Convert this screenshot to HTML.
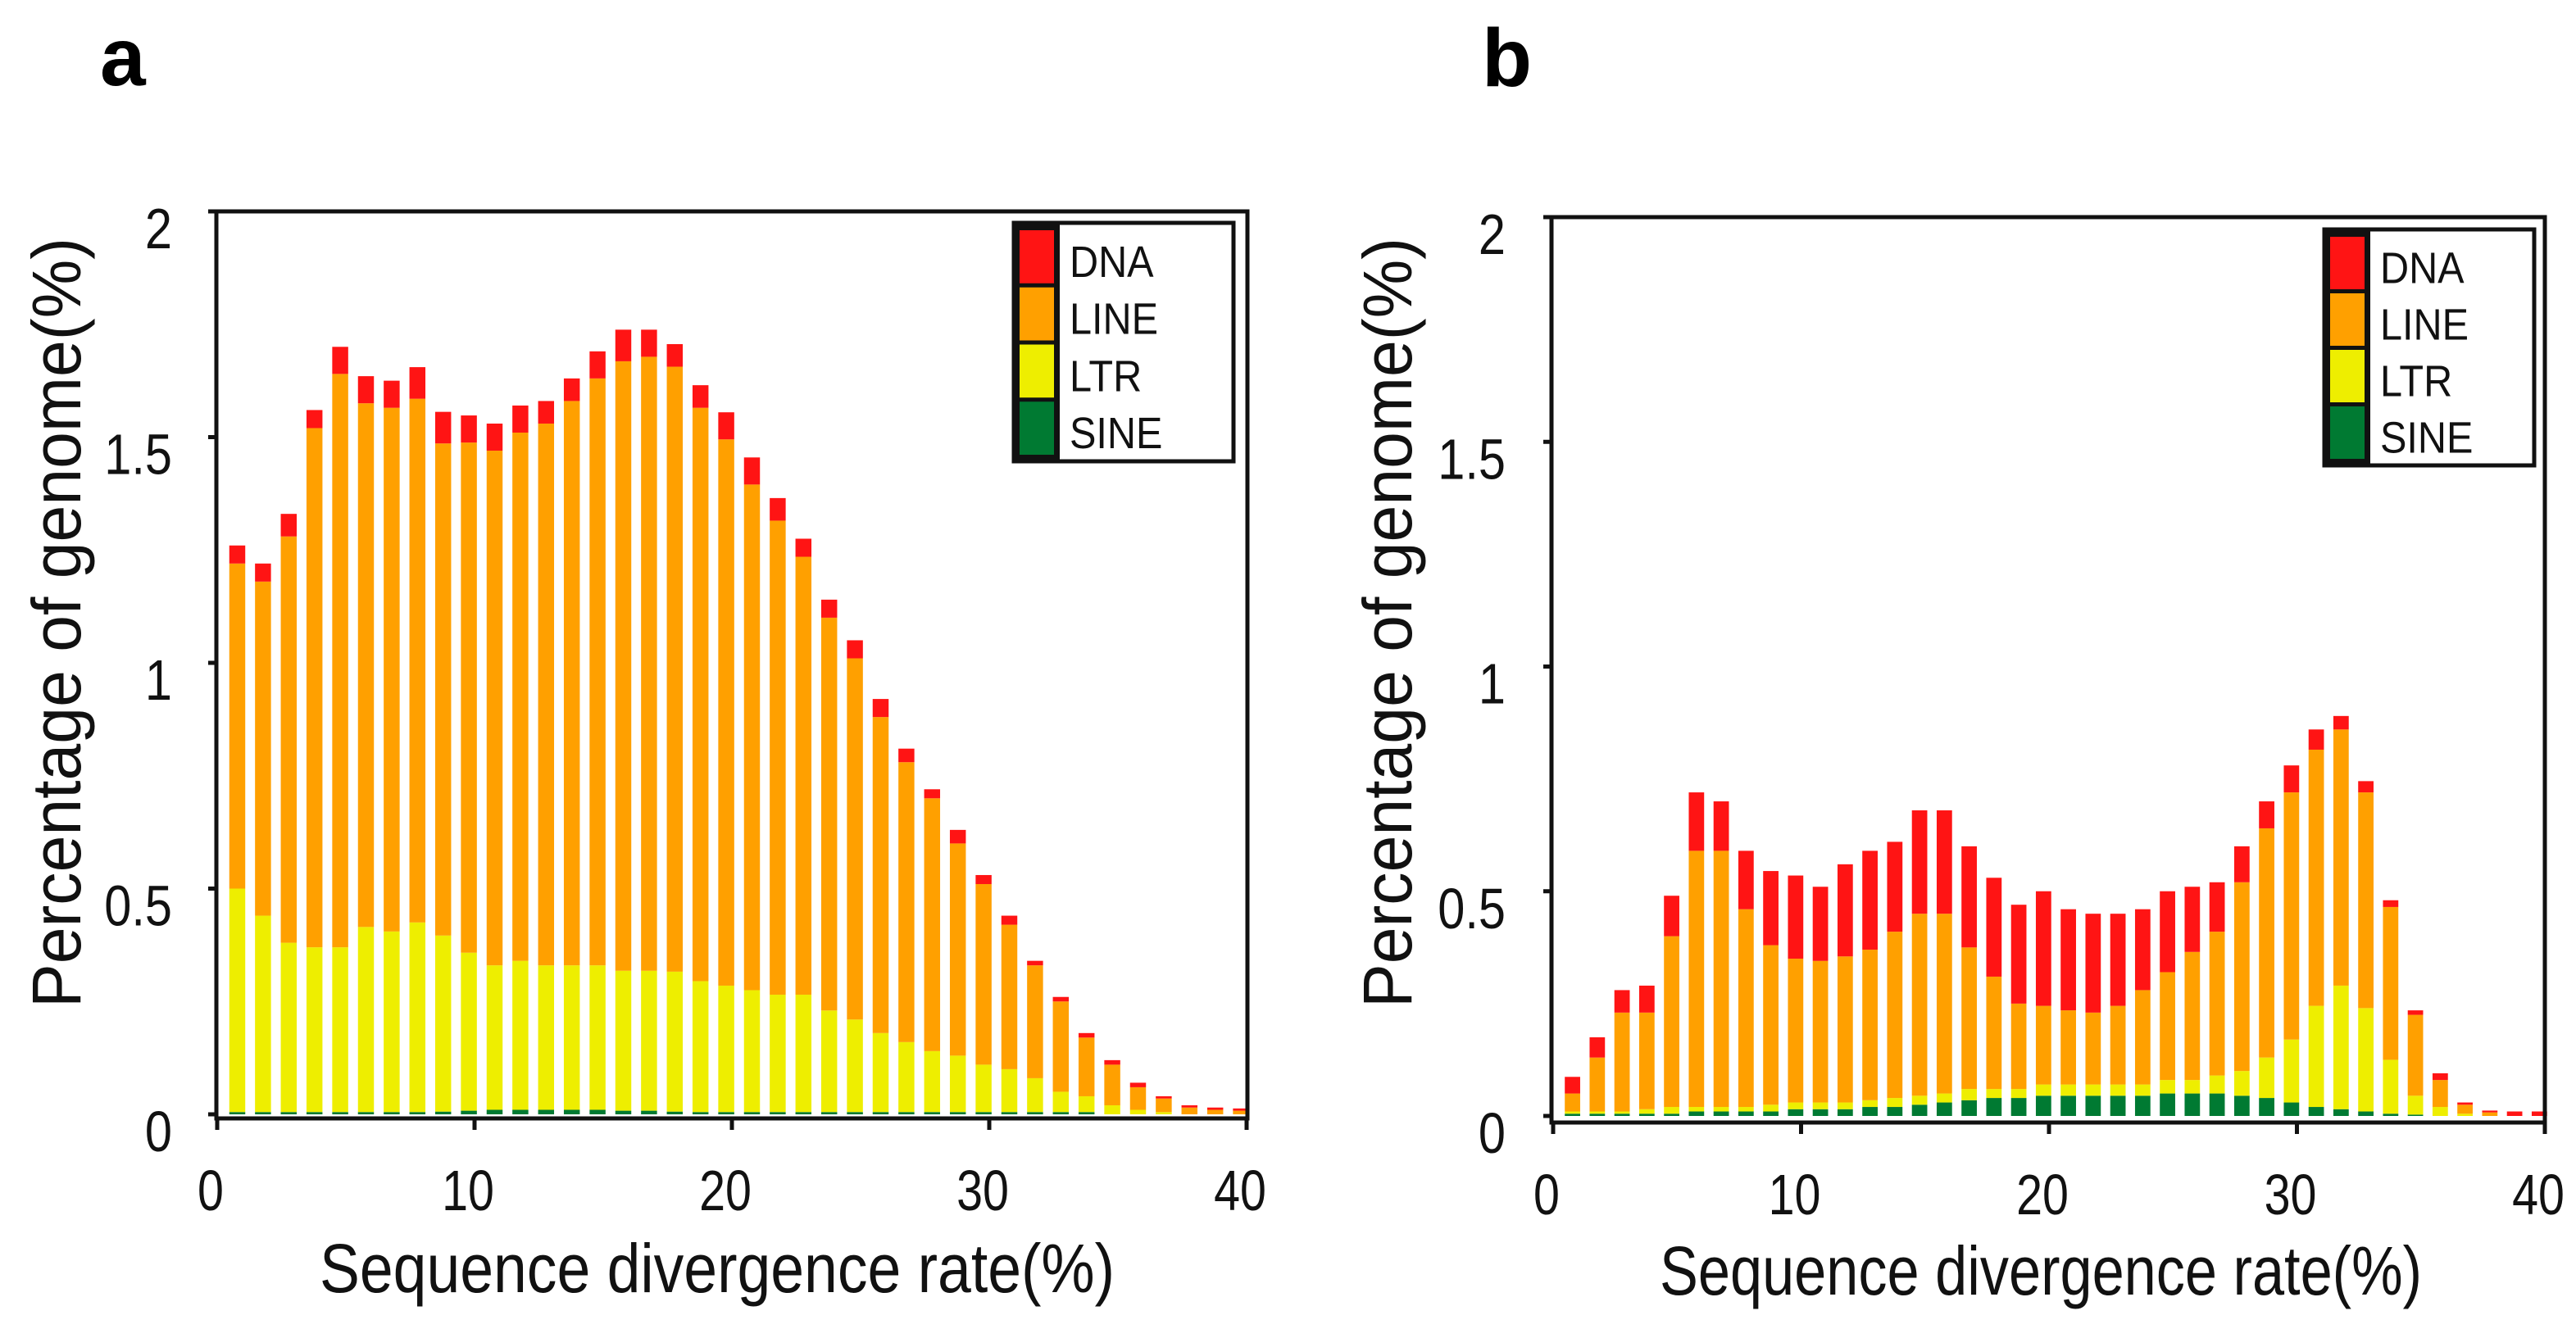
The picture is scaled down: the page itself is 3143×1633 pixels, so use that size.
<!DOCTYPE html>
<html><head><meta charset="utf-8"><style>
html,body{margin:0;padding:0;background:#fff;}
svg{display:block;font-family:"Liberation Sans",Arial,sans-serif;}
</style></head><body>
<svg id="chart" width="3143" height="1633" viewBox="0 0 3143 1633" xmlns="http://www.w3.org/2000/svg">
<rect width="3143" height="1633" fill="#fff"/>
</svg>
<script>
// ---- data: panel a ----
const aDNA  = [0.04,0.04,0.05,0.04,0.06,0.06,0.06,0.07,0.07,0.06,0.06,0.06,0.05,0.05,0.06,0.07,0.06,0.05,0.05,0.06,0.06,0.05,0.04,0.04,0.04,0.04,0.03,0.02,0.03,0.02,0.02,0.01,0.01,0.01,0.01,0.01,0.005,0.005,0.005,0.005];
const aLINE = [0.72,0.74,0.90,1.15,1.27,1.16,1.16,1.16,1.09,1.13,1.14,1.17,1.20,1.25,1.30,1.35,1.36,1.34,1.27,1.21,1.12,1.05,0.97,0.87,0.80,0.70,0.62,0.56,0.47,0.40,0.32,0.25,0.20,0.13,0.09,0.05,0.03,0.015,0.01,0.008];
const aLTR  = [0.495,0.435,0.375,0.365,0.365,0.41,0.40,0.42,0.39,0.35,0.32,0.33,0.32,0.32,0.32,0.31,0.31,0.31,0.29,0.28,0.27,0.26,0.26,0.225,0.205,0.175,0.155,0.135,0.125,0.105,0.095,0.075,0.045,0.035,0.02,0.01,0.005,0,0,0];
const aSINE = [0.005,0.005,0.005,0.005,0.005,0.005,0.005,0.005,0.006,0.008,0.01,0.01,0.01,0.01,0.01,0.008,0.008,0.006,0.005,0.005,0.005,0.005,0.005,0.005,0.005,0.005,0.005,0.005,0.005,0.005,0.005,0.005,0.005,0.005,0,0,0,0,0,0];
// ---- data: panel b ----
const bDNA  = [0.037,0.045,0.05,0.06,0.09,0.13,0.11,0.13,0.165,0.185,0.165,0.205,0.22,0.20,0.23,0.23,0.225,0.22,0.22,0.255,0.225,0.22,0.205,0.18,0.18,0.145,0.11,0.08,0.06,0.06,0.045,0.03,0.025,0.015,0.01,0.015,0.005,0.004,0.01,0.01];
const bLINE = [0.04,0.12,0.22,0.215,0.38,0.57,0.57,0.44,0.355,0.32,0.315,0.325,0.335,0.37,0.405,0.40,0.315,0.25,0.19,0.175,0.165,0.16,0.175,0.21,0.24,0.285,0.32,0.42,0.51,0.55,0.57,0.57,0.48,0.34,0.18,0.06,0.02,0.008,0,0];
const bLTR  = [0.005,0.005,0.005,0.01,0.015,0.01,0.01,0.01,0.015,0.015,0.015,0.015,0.015,0.02,0.02,0.02,0.025,0.02,0.02,0.025,0.025,0.025,0.025,0.025,0.03,0.03,0.04,0.055,0.09,0.14,0.225,0.275,0.23,0.12,0.042,0.02,0.005,0,0,0];
const bSINE = [0.005,0.005,0.005,0.005,0.005,0.01,0.01,0.01,0.01,0.015,0.015,0.015,0.02,0.02,0.025,0.03,0.035,0.04,0.04,0.045,0.045,0.045,0.045,0.045,0.05,0.05,0.05,0.045,0.04,0.03,0.02,0.015,0.01,0.005,0.003,0,0,0,0,0];
const xTicks = [0,10,20,30,40];
const yTicks = [0,0.5,1,1.5,2];
const yTickLabels = ["0","0.5","1","1.5","2"];
const legendNames = ["DNA","LINE","LTR","SINE"];

const COL = {DNA:"#ff1414",LINE:"#ffa000",LTR:"#eeee00",SINE:"#007a32"};
const NS="http://www.w3.org/2000/svg";
const svg=document.getElementById('chart');
function mk(tag,attrs,parent){const e=document.createElementNS(NS,tag);for(const k in attrs)e.setAttribute(k,attrs[k]);(parent||svg).appendChild(e);return e;}
function txt(s,x,y,size,anchor,parent,sx,extra){
  const g=mk('g',{transform:`translate(${x},${y}) scale(${sx||1},1)`},parent);
  const t=mk('text',Object.assign({x:0,y:0,'font-size':size,'text-anchor':anchor||'start',fill:'#111'},extra||{}),g);
  t.textContent=s;return t;
}

function panel(P){
  const g=mk('g',{});
  
  
  const X=v=>P.x0+v*P.ux;
  const Y=v=>P.y0-v*(P.y0-P.y2)/2;
  const n=P.dna.length;
  for(let i=0;i<n;i++){
    const cx=X(i+1-0.22), w=P.ux*0.62;
    const segs=[["SINE",P.sine[i]],["LTR",P.ltr[i]],["LINE",P.line[i]],["DNA",P.dna[i]]];
    let base=0;
    for(const [nm,v] of segs){
      if(v<=0){continue;}
      const r=mk('rect',{x:cx-w/2,y:Y(base+v),width:w,height:Y(base)-Y(base+v),fill:COL[nm]},g);
      
      
      base+=v;
    }
  }
  const fr=mk('rect',{x:P.left,y:P.top,width:P.right-P.left,height:P.bottom-P.top,fill:'none',stroke:'#111','stroke-width':5},g);
  
  
  xTicks.forEach(v=>{
    const l=mk('line',{x1:X(v),x2:X(v),y1:P.bottom,y2:P.bottom+14,stroke:'#111','stroke-width':5},g);
    
    
    const t=txt(String(v),X(v)-8,P.bottom+112,70,'middle',g,0.82);
    
    
  });
  yTicks.forEach((v,k)=>{
    const l=mk('line',{x1:P.left-10,x2:P.left,y1:Y(v),y2:Y(v),stroke:'#111','stroke-width':5},g);
    
    
    const t=txt(yTickLabels[k],P.ylabR,Y(v)+45,70,'end',g,0.85);
    
    
  });
  const xt=mk('text',{x:P.xtX,y:P.xtY,'font-size':84,'text-anchor':'middle',fill:'#111',textLength:P.xtW,lengthAdjust:'spacingAndGlyphs'},g);
  xt.textContent='Sequence divergence rate(%)';
  
  
  const yt=mk('text',{x:0,y:0,'font-size':84,'text-anchor':'middle',fill:'#111',textLength:940,lengthAdjust:'spacingAndGlyphs',transform:`translate(${P.ytX},760) rotate(-90)`},g);
  yt.textContent='Percentage of genome(%)';
  
  
  const pl=mk('text',{x:P.labX,y:P.labY,'font-size':100,'font-weight':'bold',fill:'#000'},g);
  pl.textContent=P.id;
  
  
  const L=P.leg;
  const lg=mk('g',{},g);
  
  
  mk('rect',{x:L.x,y:L.y,width:L.w,height:L.h,fill:'#fff',stroke:'#111','stroke-width':5},lg);
  mk('rect',{x:L.x,y:L.y,width:56,height:L.h,fill:'#111'},lg);
  const rh=(L.h-12)/4;
  legendNames.forEach((nm,k)=>{
    const e=mk('g',{},lg);
    
    
    mk('rect',{x:L.x+7,y:L.y+7+k*rh+2,width:42,height:rh-5,fill:COL[nm]},e);
    txt(nm,L.x+68,L.y+7+k*rh+rh*0.5+24,54,'start',e,0.9);
  });
}

panel({id:'a',dna:aDNA,line:aLINE,ltr:aLTR,sine:aSINE,
  x0:265,ux:31.4,y0:1360,y2:258,left:264,right:1522,top:258,bottom:1365,
  ylabR:210,xtX:875,xtY:1577,xtW:970,ytX:98,labX:122,labY:104,
  leg:{x:1237,y:272,w:268,h:291}});
panel({id:'b',dna:bDNA,line:bLINE,ltr:bLTR,sine:bSINE,
  x0:1895,ux:30.25,y0:1362,y2:265,left:1893,right:3105,top:265,bottom:1370,
  ylabR:1837,xtX:2490,xtY:1580,xtW:930,ytX:1722,labX:1808,labY:105,
  leg:{x:2836,y:280,w:256,h:288}});
</script>
</body></html>
